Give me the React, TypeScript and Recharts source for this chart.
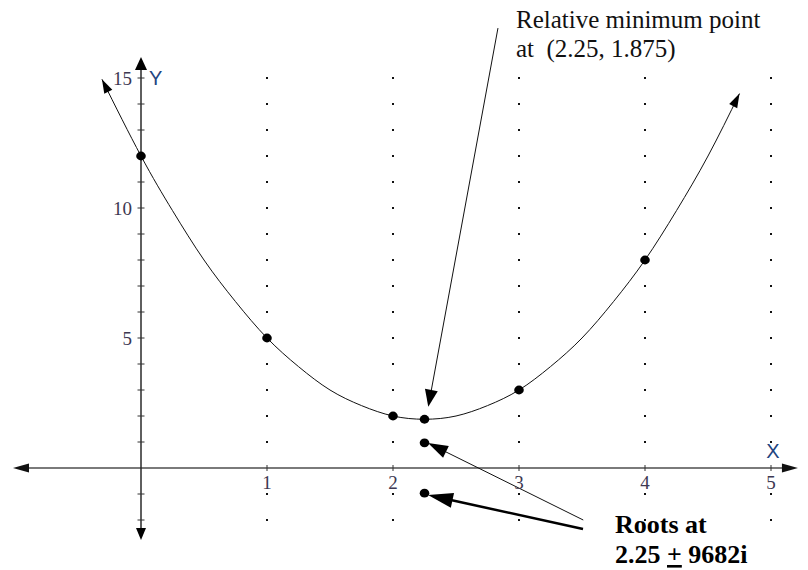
import React from 'react';
import { ComposedChart, XAxis, YAxis, Line, Scatter, ReferenceLine, ReferenceDot } from 'recharts';

// ---------- data ----------
const pointXs = [0, 1, 2, 2.25, 3, 4];
const pointYs = [12, 5, 2, 1.875, 3, 8];
const rootXs = [2.25, 2.25];
const rootYs = [0.9682, -0.9682];
const curveXs = [-0.31, 0, 0.25, 0.5, 0.75, 1, 1.25, 1.5, 1.75, 2, 2.25, 2.5, 2.75, 3, 3.25, 3.5, 3.75, 4, 4.25, 4.5, 4.75];
const curveYs = [14.95, 12, 9.9, 8, 6.4, 5, 3.9, 3, 2.4, 2, 1.875, 2, 2.4, 3, 3.9, 5, 6.4, 8, 9.9, 12, 14.4];
const gridXs = [1, 2, 3, 4, 5];
const gridYs = [-2, -1, 1, 2, 3, 4, 5, 6, 7, 8, 9, 10, 11, 12, 13, 14, 15];
const xTickValues = [1, 2, 3, 4, 5];
const xTickLabels = ['1', '2', '3', '4', '5'];
const yTickValues = [-2, -1, 1, 2, 3, 4, 5, 6, 7, 8, 9, 10, 11, 12, 13, 14, 15];
const yLabelValues = [5, 10, 15];
const yTickLabels = ['5', '10', '15'];
const xDomain: [number, number] = [-1.05, 5.25];
const yDomain: [number, number] = [-3, 16];
const xAxisEnds = [-1.016, 5.214];
const yAxisEnds = [-2.77, 15.81];
const xAxisName = 'X';
const yAxisName = 'Y';
const minArrowFrom = { x: 2.833, y: 16.92 };
const minArrowTo = { x: 2.28, y: 2.358 };
const rootArrow1From = { x: 3.51, y: -2.0 };
const rootArrow1To = { x: 2.278, y: 0.96 };
const rootArrow2From = { x: 3.508, y: -2.346 };
const rootArrow2To = { x: 2.278, y: -1.04 };
const minTextAnchor = { x: 2.976, y: 16.92 };
const minTextLines = ['Relative minimum point', 'at  (2.25, 1.875)'];
const rootsTextAnchor = { x: 3.762, y: -2.5 };
const rootsLine1 = 'Roots at';
const rootsLine2 = ['2.25 ', '+', ' 9682i'];

// ---------- styling ----------
const W = 808;
const H = 570;
const margin = { top: 52, right: 5.5, bottom: 24, left: 8.7 };
const SERIF = "'Liberation Serif', 'Times New Roman', serif";
const SANS = "'Liberation Sans', Arial, sans-serif";
const NUM_COLOR = '#3d3852';
const NAME_COLOR = '#22447f';

type Head = { len: number; w: number };
const makeArrow = (o: { stroke: string; sw: number; line: boolean; end?: Head; start?: Head; headFill: string }) =>
  (p: any) => {
    const { x1, y1, x2, y2 } = p;
    const dx = x2 - x1;
    const dy = y2 - y1;
    const L = Math.hypot(dx, dy) || 1;
    const ux = dx / L;
    const uy = dy / L;
    const nx = -uy;
    const ny = ux;
    const tri = (tx: number, ty: number, dirx: number, diry: number, h: Head) => {
      const bx = tx - dirx * h.len;
      const by = ty - diry * h.len;
      return `${tx},${ty} ${bx + (nx * h.w) / 2},${by + (ny * h.w) / 2} ${bx - (nx * h.w) / 2},${by - (ny * h.w) / 2}`;
    };
    const lx1 = o.start ? x1 + ux * o.start.len * 0.7 : x1;
    const ly1 = o.start ? y1 + uy * o.start.len * 0.7 : y1;
    const lx2 = o.end ? x2 - ux * o.end.len * 0.7 : x2;
    const ly2 = o.end ? y2 - uy * o.end.len * 0.7 : y2;
    return (
      <g>
        {o.line && <line x1={lx1} y1={ly1} x2={lx2} y2={ly2} stroke={o.stroke} strokeWidth={o.sw} />}
        {o.end && <polygon points={tri(x2, y2, ux, uy, o.end)} fill={o.headFill} />}
        {o.start && <polygon points={tri(x1, y1, -ux, -uy, o.start)} fill={o.headFill} />}
      </g>
    );
  };

const GridDot = (p: any) => <rect x={p.cx - 1} y={p.cy - 1} width={2} height={2} fill="#111" />;
const XTick = (p: any) => <line x1={p.cx} y1={p.cy - 3} x2={p.cx} y2={p.cy + 3} stroke="#333" strokeWidth={1} />;
const YTick = (p: any) => <line x1={p.cx - 3.5} y1={p.cy} x2={p.cx + 3.5} y2={p.cy} stroke="#333" strokeWidth={1} />;
const XLabel = (p: any) => (
  <text x={p.cx} y={p.cy + 21} textAnchor="middle" fontFamily={SERIF} fontSize={19} fill={NUM_COLOR}>
    {p.payload.label}
  </text>
);
const YLabel = (p: any) => (
  <text x={p.cx - 9} y={p.cy + 6.5} textAnchor="end" fontFamily={SERIF} fontSize={19} fill={NUM_COLOR}>
    {p.payload.label}
  </text>
);
const Marker = (p: any) => <ellipse cx={p.cx} cy={p.cy} rx={4.8} ry={4.4} fill="#000" />;

export default function App() {
  const curveData = curveXs.map((x, i) => ({ x, y: curveYs[i] }));
  const pointData = pointXs.map((x, i) => ({ x, y: pointYs[i] }));
  const rootData = rootXs.map((x, i) => ({ x, y: rootYs[i] }));
  const gridData = gridXs.flatMap((x) => gridYs.map((y) => ({ x, y })));
  const xTickData = xTickValues.map((x) => ({ x, y: 0 }));
  const yTickData = yTickValues.map((y) => ({ x: 0, y }));
  const xLabelData = xTickValues.map((x, i) => ({ x, y: 0, label: xTickLabels[i] }));
  const yLabelData = yLabelValues.map((y, i) => ({ x: 0, y, label: yTickLabels[i] }));
  const n = curveXs.length;

  return (
    <div style={{ position: 'absolute', left: 0, top: 0, width: W, height: H, background: '#fff' }}>
      <ComposedChart width={W} height={H} margin={margin}>
        <XAxis type="number" dataKey="x" domain={xDomain} allowDataOverflow hide />
        <YAxis type="number" dataKey="y" domain={yDomain} allowDataOverflow hide />

        <Scatter data={gridData} shape={GridDot} isAnimationActive={false} />

        <ReferenceLine
          ifOverflow="visible"
          segment={[{ x: xAxisEnds[0], y: 0 }, { x: xAxisEnds[1], y: 0 }]}
          shape={makeArrow({ stroke: '#7a7a7a', sw: 2, line: true, start: { len: 16, w: 9 }, end: { len: 16, w: 9 }, headFill: '#111' })}
        />
        <ReferenceLine
          ifOverflow="visible"
          segment={[{ x: 0, y: yAxisEnds[0] }, { x: 0, y: yAxisEnds[1] }]}
          shape={makeArrow({ stroke: '#2a2a2a', sw: 1.5, line: true, start: { len: 12, w: 10 }, end: { len: 13, w: 12 }, headFill: '#000' })}
        />

        <Scatter data={xTickData} shape={XTick} isAnimationActive={false} />
        <Scatter data={yTickData} shape={YTick} isAnimationActive={false} />
        <Scatter data={xLabelData} shape={XLabel} isAnimationActive={false} />
        <Scatter data={yLabelData} shape={YLabel} isAnimationActive={false} />

        <ReferenceDot
          x={0}
          y={15}
          ifOverflow="visible"
          shape={(p: any) => (
            <text x={p.cx + 8} y={p.cy + 7} fontFamily={SANS} fontSize={20} fill={NAME_COLOR}>
              {yAxisName}
            </text>
          )}
        />
        <ReferenceDot
          x={5}
          y={0}
          ifOverflow="visible"
          shape={(p: any) => (
            <text x={p.cx + 2} y={p.cy - 10} textAnchor="middle" fontFamily={SANS} fontSize={20} fill={NAME_COLOR}>
              {xAxisName}
            </text>
          )}
        />

        <Line
          data={curveData}
          dataKey="y"
          type="natural"
          stroke="#111"
          strokeWidth={1}
          dot={false}
          activeDot={false}
          isAnimationActive={false}
        />
        <ReferenceLine
          ifOverflow="visible"
          segment={[{ x: curveXs[1], y: curveYs[1] }, { x: curveXs[0], y: curveYs[0] }]}
          shape={makeArrow({ stroke: '#111', sw: 1, line: false, end: { len: 14, w: 9 }, headFill: '#000' })}
        />
        <ReferenceLine
          ifOverflow="visible"
          segment={[{ x: curveXs[n - 2], y: curveYs[n - 2] }, { x: curveXs[n - 1], y: curveYs[n - 1] }]}
          shape={makeArrow({ stroke: '#111', sw: 1, line: false, end: { len: 14, w: 9 }, headFill: '#000' })}
        />

        <Scatter data={pointData} shape={Marker} isAnimationActive={false} />
        <Scatter data={rootData} shape={Marker} isAnimationActive={false} />

        <ReferenceLine
          ifOverflow="visible"
          segment={[minArrowFrom, minArrowTo]}
          shape={makeArrow({ stroke: '#111', sw: 1, line: true, end: { len: 17, w: 13 }, headFill: '#000' })}
        />
        <ReferenceLine
          ifOverflow="visible"
          segment={[rootArrow1From, rootArrow1To]}
          shape={makeArrow({ stroke: '#111', sw: 1, line: true, end: { len: 20, w: 13 }, headFill: '#000' })}
        />
        <ReferenceLine
          ifOverflow="visible"
          segment={[rootArrow2From, rootArrow2To]}
          shape={makeArrow({ stroke: '#000', sw: 2.5, line: true, end: { len: 25, w: 15 }, headFill: '#000' })}
        />

        <ReferenceDot
          x={minTextAnchor.x}
          y={minTextAnchor.y}
          ifOverflow="visible"
          shape={(p: any) => (
            <text fontFamily={SERIF} fontSize={25} fill="#111" style={{ whiteSpace: 'pre' }}>
              <tspan x={p.cx} y={p.cy}>{minTextLines[0]}</tspan>
              <tspan x={p.cx} y={p.cy + 29}>{minTextLines[1]}</tspan>
            </text>
          )}
        />
        <ReferenceDot
          x={rootsTextAnchor.x}
          y={rootsTextAnchor.y}
          ifOverflow="visible"
          shape={(p: any) => (
            <text fontFamily={SERIF} fontSize={26} fontWeight="bold" fill="#000" style={{ whiteSpace: 'pre' }}>
              <tspan x={p.cx} y={p.cy}>{rootsLine1}</tspan>
              <tspan x={p.cx} y={p.cy + 30}>{rootsLine2[0]}</tspan>
              <tspan style={{ textDecoration: 'underline' }}>{rootsLine2[1]}</tspan>
              <tspan>{rootsLine2[2]}</tspan>
            </text>
          )}
        />
      </ComposedChart>
    </div>
  );
}
